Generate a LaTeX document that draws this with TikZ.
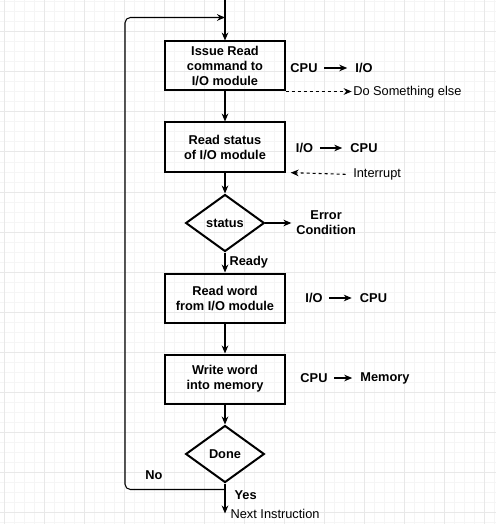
\documentclass[tikz,border=0pt]{standalone}
\usepackage{fontspec}
\setmainfont{Liberation Sans}
\usepackage{tikz}
\usetikzlibrary{arrows.meta, positioning, shapes.geometric}

\begin{document}
\begin{tikzpicture}[x=0.75pt, y=-0.75pt, node distance=22.5pt,
            block/.style={rectangle, draw, line width=1.5pt, minimum width=89.5pt, minimum height=36.75pt, inner sep=0pt, align=center, font=\bfseries\fontsize{9.6}{11.25}\selectfont},
            decision/.style={diamond, draw, line width=1.5pt, minimum width=59pt, minimum height=42.75pt, inner sep=0pt, font=\bfseries\fontsize{9.6}{11.25}\selectfont},
            arrow/.style={line width=0.8pt, ->, >={Stealth[length=6pt, width=5pt]}},
            dasharrow/.style={arrow, dash pattern=on 2.25pt off 2.25pt},
            pair/.style={arrow, shorten <=4pt, shorten >=5pt},
            lbl/.style={inner sep=1pt, font=\bfseries\fontsize{9.6}{11.25}\selectfont},
            note/.style={inner sep=1pt, font=\fontsize{9.6}{11.25}\selectfont},
            gridminor/.style={draw=gray!8, line width=0.75pt},
            gridmajor/.style={draw=gray!18, line width=0.75pt}
        ]

        \useasboundingbox (0,0) rectangle (496,524);

        % Background grid
        \foreach \g in {4,14,...,494} \draw[gridminor] (\g,0) -- (\g,524);
        \foreach \g in {2,12,...,522} \draw[gridminor] (0,\g) -- (496,\g);
        \foreach \g in {4,44,...,484} \draw[gridmajor] (\g,0) -- (\g,524);
        \foreach \g in {32,72,...,512} \draw[gridmajor] (0,\g) -- (496,\g);

        % Flow blocks
        \node[block] (issue) at (225,66) {Issue Read\\command to\\I/O module};
        \node[block, below=of issue] (readstat) {Read status\\of I/O module};
        \node[decision, below=15.75pt of readstat] (status) {status};
        \node[block, below=15pt of status] (readword) {Read word\\from I/O module};
        \node[block, below=of readword] (writeword) {Write word\\into memory};
        \node[decision, below=15pt of writeword] (done) {Done};

        % Loop points
        \coordinate (start) at ([yshift=30.75pt]issue.north);
        \coordinate (entry) at ([yshift=17.25pt]issue.north);
        \coordinate (corner) at ([xshift=-75pt]entry);
        \coordinate (j) at ([yshift=-4.5pt]done.south);
        \coordinate (nxt) at ([yshift=-22.5pt]done.south);

        % Side labels
        \node[lbl] (cpuA) at (304,68) {CPU};
        \node[lbl] (ioA) at (364,68) {I/O};
        \node[lbl] (ioB) at (304.5,148) {I/O};
        \node[lbl] (cpuB) at (364,148) {CPU};
        \node[lbl] (ioC) at (314,298) {I/O};
        \node[lbl] (cpuC) at (373.5,298) {CPU};
        \node[lbl] (cpuD) at (314,378) {CPU};
        \node[lbl] (mem) at (385,378) {Memory};
        \node[note, anchor=west] (dose) at ([xshift=49.5pt, yshift=-0.75pt]issue.south east) {Do Something else};
        \node[note, anchor=west] (intr) at ([xshift=49.5pt, yshift=-1.5pt]readstat.south east) {Interrupt};
        \node[lbl, align=center, right=22pt of status] (err) {Error\\Condition};
        \node[note, anchor=west] (next) at ([xshift=3pt, yshift=-0.5pt]nxt) {Next Instruction};
        \node[lbl, anchor=west] (yes) at ([xshift=6pt, yshift=-4.5pt]j) {Yes};
        \node[lbl] (no) at ([xshift=-53.25pt, yshift=10.5pt]j) {No};

        % Arrows
        \draw[arrow] (start) -- (issue);
        \draw[arrow] (issue) -- (readstat);
        \draw[arrow] (readstat) -- (status);
        \draw[arrow] (status) -- node[lbl, right, inner sep=3pt] (ready) {Ready} (readword);
        \draw[arrow] (readword) -- (writeword);
        \draw[arrow] (writeword) -- (done);
        \draw[arrow] (done) -- (nxt);
        \draw[arrow, rounded corners=4pt] (j) -| (corner) -- (entry);
        \draw[arrow, shorten >=2.5pt] (status) -- (err);

        \draw[pair] (cpuA) -- (ioA);
        \draw[pair] (ioB) -- (cpuB);
        \draw[pair] (ioC) -- (cpuC);
        \draw[pair] (cpuD) -- (mem);
        \draw[dasharrow] (issue.south east) -- (issue.south east -| dose.west);
        \draw[dasharrow, shorten <=4.5pt, shorten >=3.75pt] (intr.west) -- (readstat.south east);

    \end{tikzpicture}
\end{document}
